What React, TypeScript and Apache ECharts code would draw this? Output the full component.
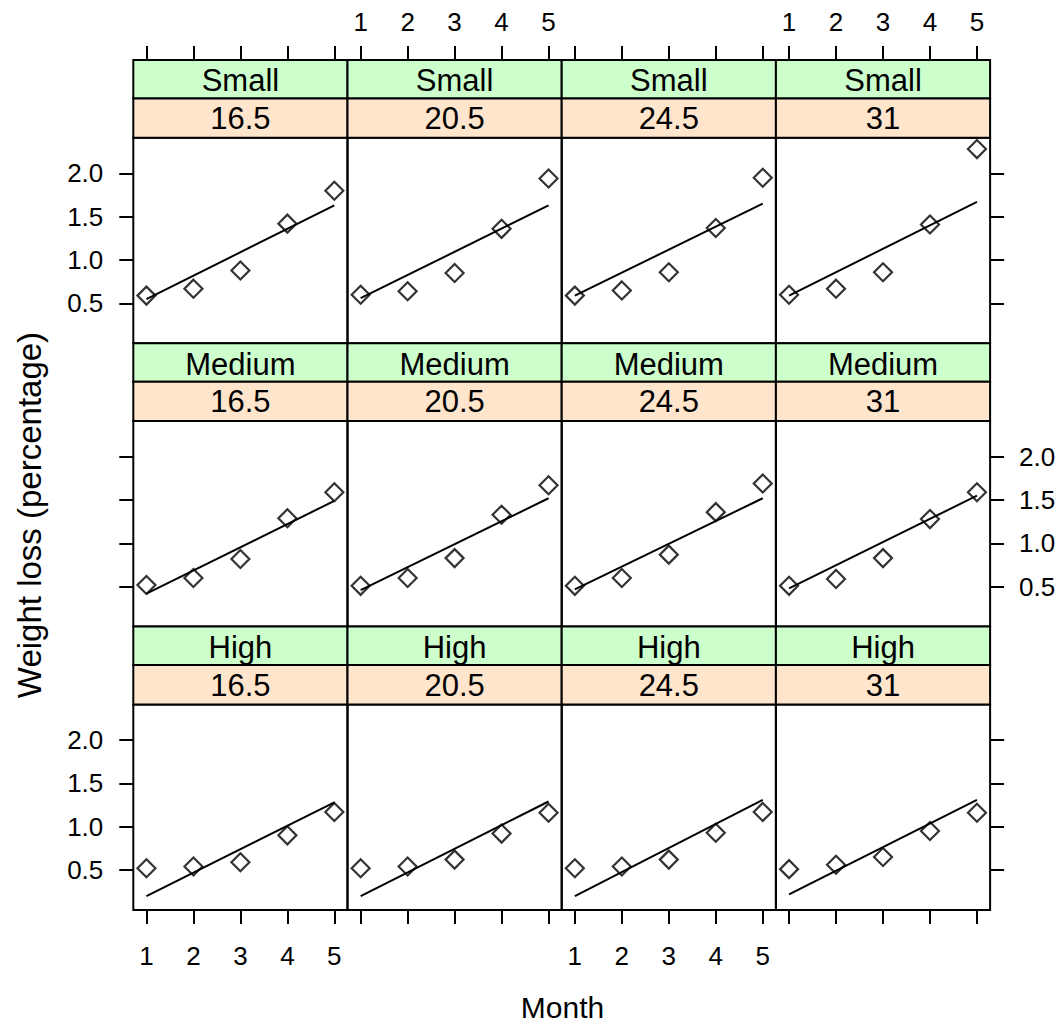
import React, { useEffect, useRef } from "react";
import * as echarts from "echarts";

// ---- data ----
const months = [1, 2, 3, 4, 5];
const monthTicks = [1, 2, 3, 4, 5];
const lossTicks = [0.5, 1.0, 1.5, 2.0];
const sizeLevels = ["Small", "Medium", "High"];
const tempLevels = ["16.5", "20.5", "24.5", "31"];

// observed weight loss (%) by month, one row per temperature
const lossSmall = [
  [0.59, 0.67, 0.88, 1.42, 1.8],
  [0.6, 0.64, 0.85, 1.36, 1.94],
  [0.59, 0.65, 0.86, 1.37, 1.95],
  [0.6, 0.67, 0.86, 1.41, 2.28],
];
const lossMedium = [
  [0.52, 0.6, 0.82, 1.29, 1.59],
  [0.51, 0.6, 0.83, 1.33, 1.67],
  [0.51, 0.6, 0.87, 1.36, 1.69],
  [0.51, 0.59, 0.83, 1.28, 1.59],
];
const lossHigh = [
  [0.52, 0.54, 0.59, 0.9, 1.17],
  [0.52, 0.54, 0.62, 0.92, 1.16],
  [0.52, 0.54, 0.62, 0.93, 1.17],
  [0.51, 0.56, 0.65, 0.95, 1.16],
];
// fitted line values at month 1 and month 5
const fitSmall = [
  [0.55, 1.63],
  [0.56, 1.63],
  [0.59, 1.65],
  [0.59, 1.67],
];
const fitMedium = [
  [0.42, 1.49],
  [0.46, 1.52],
  [0.47, 1.52],
  [0.48, 1.55],
];
const fitHigh = [
  [0.2, 1.28],
  [0.2, 1.29],
  [0.2, 1.31],
  [0.22, 1.31],
];
const xRange = [0.72, 5.28];
const yRange = [0.04, 2.41];

const lossRows = [lossSmall, lossMedium, lossHigh];
const fitRows = [fitSmall, fitMedium, fitHigh];

// ---- layout ----
const W = 1062;
const H = 1023;
const LEFT0 = 133.3;
const COLW = 214.2;
const TOP0 = 60;
const STRIP1 = 38.5;
const STRIP2 = 39.3;
const PANELH = 205.5;
const ROWSTEP = STRIP1 + STRIP2 + PANELH;
const FONT = "'Liberation Sans', Arial, Helvetica, sans-serif";
const TICKFS = 26;
const STRIPFS = 31;
const TITLEFS = 30;
const YTITLEFS = 33;

function buildOption() {
  const grids: any[] = [];
  const xAxes: any[] = [];
  const yAxes: any[] = [];
  const series: any[] = [];
  const graphics: any[] = [];

  const tickStyle = { color: "#000", width: 2 };

  for (let r = 0; r < 3; r++) {
    for (let c = 0; c < 4; c++) {
      const gi = grids.length;
      const left = LEFT0 + c * COLW;
      const stripTop = TOP0 + r * ROWSTEP;
      const top = stripTop + STRIP1 + STRIP2;
      grids.push({
        left,
        top,
        width: COLW,
        height: PANELH,
        show: true,
        borderColor: "#000",
        borderWidth: 2,
        backgroundColor: "transparent",
        containLabel: false,
        outerBoundsMode: "none",
      });

      // bottom x axis (used by series)
      const bx = xAxes.length;
      xAxes.push({
        type: "value",
        gridIndex: gi,
        position: "bottom",
        min: xRange[0],
        max: xRange[1],
        show: r === 2,
        axisLine: { show: false },
        splitLine: { show: false },
        axisTick: { show: true, length: 14, customValues: monthTicks, lineStyle: tickStyle },
        axisLabel: {
          show: r === 2 && (c === 0 || c === 2),
          customValues: monthTicks,
          fontSize: TICKFS,
          color: "#000",
          fontFamily: FONT,
          margin: 33,
        },
      });
      // top x axis for first row (above strips)
      if (r === 0) {
        xAxes.push({
          type: "value",
          gridIndex: gi,
          position: "top",
          offset: STRIP1 + STRIP2,
          min: xRange[0],
          max: xRange[1],
          show: true,
          axisLine: { show: false },
          splitLine: { show: false },
          axisTick: { show: true, length: 14, customValues: monthTicks, lineStyle: tickStyle },
          axisLabel: {
            show: c === 1 || c === 3,
            customValues: monthTicks,
            fontSize: TICKFS,
            color: "#000",
            fontFamily: FONT,
            margin: 25,
          },
        });
      }
      // left y axis (used by series)
      const ly = yAxes.length;
      yAxes.push({
        type: "value",
        gridIndex: gi,
        position: "left",
        min: yRange[0],
        max: yRange[1],
        show: c === 0,
        axisLine: { show: false },
        splitLine: { show: false },
        axisTick: { show: true, length: 14, customValues: lossTicks, lineStyle: tickStyle },
        axisLabel: {
          show: c === 0 && r !== 1,
          customValues: lossTicks,
          formatter: (v: number) => v.toFixed(1),
          fontSize: TICKFS,
          color: "#000",
          fontFamily: FONT,
          margin: 30,
        },
      });
      if (c === 3) {
        yAxes.push({
          type: "value",
          gridIndex: gi,
          position: "right",
          min: yRange[0],
          max: yRange[1],
          show: true,
          axisLine: { show: false },
          splitLine: { show: false },
          axisTick: { show: true, length: 14, customValues: lossTicks, lineStyle: tickStyle },
          axisLabel: {
            show: r === 1,
            customValues: lossTicks,
            formatter: (v: number) => v.toFixed(1),
            fontSize: TICKFS,
            color: "#000",
            fontFamily: FONT,
            margin: 29,
          },
        });
      }

      const loss = lossRows[r][c];
      const fit = fitRows[r][c];
      series.push({
        type: "line",
        xAxisIndex: bx,
        yAxisIndex: ly,
        data: [
          [months[0], fit[0]],
          [months[months.length - 1], fit[1]],
        ],
        symbol: "none",
        lineStyle: { color: "#000", width: 2 },
        silent: true,
        z: 2,
      });
      series.push({
        type: "scatter",
        xAxisIndex: bx,
        yAxisIndex: ly,
        data: months.map((m, k) => [m, loss[k]]),
        symbol: "diamond",
        symbolSize: 18,
        clip: false,
        itemStyle: { color: "transparent", borderColor: "#000", borderWidth: 2.2 },
        silent: true,
        z: 3,
      });

      // strips
      graphics.push({
        type: "rect",
        shape: { x: left, y: stripTop, width: COLW, height: STRIP1 },
        style: { fill: "#CCFFCC", stroke: "#000", lineWidth: 2 },
        z: 1,
      });
      graphics.push({
        type: "rect",
        shape: { x: left, y: stripTop + STRIP1, width: COLW, height: STRIP2 },
        style: { fill: "#FFE5CC", stroke: "#000", lineWidth: 2 },
        z: 1,
      });
      graphics.push({
        type: "text",
        x: left + COLW / 2,
        y: stripTop + STRIP1 / 2 + 1.5,
        style: {
          text: sizeLevels[r],
          fontSize: STRIPFS,
          fontFamily: FONT,
          fill: "#000",
          align: "center",
          verticalAlign: "middle",
        },
        z: 2,
      });
      graphics.push({
        type: "text",
        x: left + COLW / 2,
        y: stripTop + STRIP1 + STRIP2 / 2 + 0.5,
        style: {
          text: tempLevels[c],
          fontSize: STRIPFS,
          fontFamily: FONT,
          fill: "#000",
          align: "center",
          verticalAlign: "middle",
        },
        z: 2,
      });
    }
  }

  graphics.push({
    type: "text",
    x: 29,
    y: 515,
    rotation: Math.PI / 2,
    style: {
      text: "Weight loss (percentage)",
      fontSize: YTITLEFS,
      fontFamily: FONT,
      fill: "#000",
      align: "center",
      verticalAlign: "middle",
    },
  });
  graphics.push({
    type: "text",
    x: 562.5,
    y: 1007,
    style: {
      text: "Month",
      fontSize: TITLEFS,
      fontFamily: FONT,
      fill: "#000",
      align: "center",
      verticalAlign: "middle",
    },
  });

  return {
    animation: false,
    backgroundColor: "#fff",
    textStyle: { fontFamily: FONT },
    grid: grids,
    xAxis: xAxes,
    yAxis: yAxes,
    series,
    graphic: graphics,
  };
}

export default function App() {
  const ref = useRef<HTMLDivElement>(null);
  useEffect(() => {
    document.body.style.margin = "0";
    if (!ref.current) return;
    const chart = echarts.init(ref.current, null, { renderer: "svg" });
    chart.setOption(buildOption() as any);
    return () => chart.dispose();
  }, []);
  return <div ref={ref} style={{ width: W, height: H }} />;
}
